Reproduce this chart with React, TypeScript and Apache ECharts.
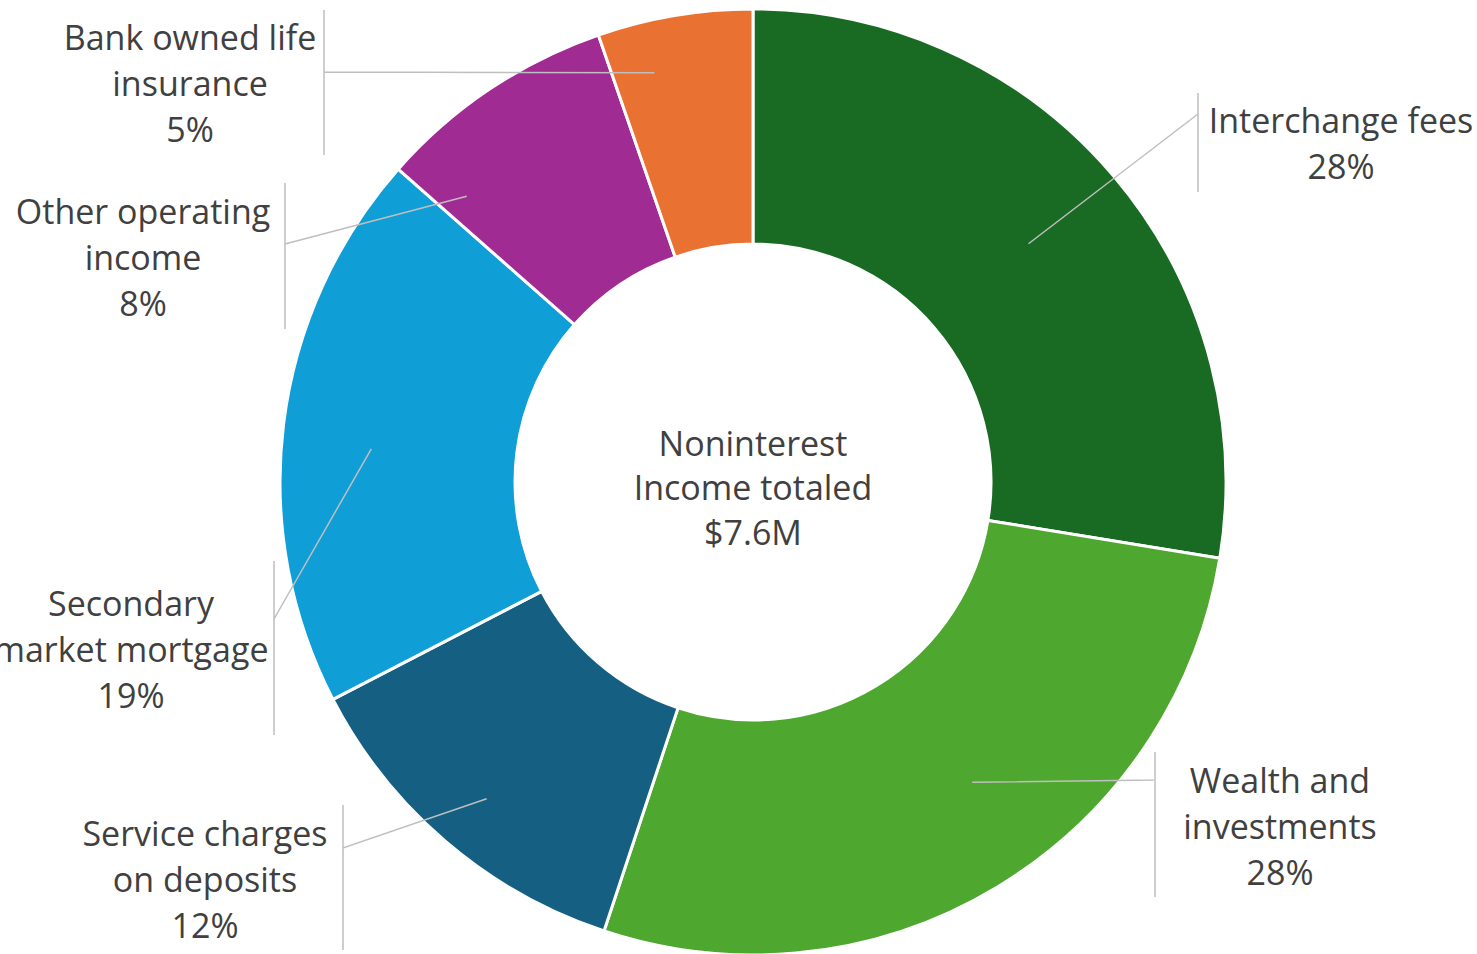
import React, { useEffect, useRef } from "react";
import * as echarts from "echarts";

// ---- data ----
const categories = [
  "Interchange fees",
  "Wealth and\ninvestments",
  "Service charges\non deposits",
  "Secondary\nmarket mortgage",
  "Other operating\nincome",
  "Bank owned life\ninsurance",
];
const shares = [27.58, 27.52, 12.3, 19.1, 8.2, 5.3];
const colors = ["#196B24", "#4EA72E", "#156082", "#0F9ED5", "#A02B93", "#E97132"];
const centerLines = ["Noninterest", "Income totaled", "$7.6M"];

// ---- layout (label boxes & leader anchors) ----
const CX = 753;
const CY = 482;
const R_OUT = 473;
const R_IN = 238;
const labelPlacement = [
  { cx: 1341, cy: 143, barX: 1198, barTop: 93, barBottom: 192, attachY: 114 },
  { cx: 1280, cy: 826, barX: 1155, barTop: 752, barBottom: 897, attachY: 780 },
  { cx: 205, cy: 879, barX: 343, barTop: 805, barBottom: 950, attachY: 848 },
  { cx: 131, cy: 649, barX: 274, barTop: 561, barBottom: 735, attachY: 619 },
  { cx: 143, cy: 257, barX: 285, barTop: 183, barBottom: 329, attachY: 244 },
  { cx: 190, cy: 83, barX: 324, barTop: 10, barBottom: 155, attachY: 72 },
];
const leaderAnchor = [
  { t: 0.495, r: 0.77 },
  { t: 0.45, r: 0.786 },
  { t: 0.49, r: 0.875 },
  { t: 0.47, r: 0.81 },
  { t: 0.12, r: 0.855 },
  { t: 0.29, r: 0.89 },
];

const FONT = "'Open Sans', 'Noto Sans', sans-serif";
const TEXT_COLOR = "#404040";

export default function App() {
  const ref = useRef<HTMLDivElement>(null);
  useEffect(() => {
    if (!ref.current) return;
    const chart = echarts.init(ref.current, null, { renderer: "svg" });
    const total = shares.reduce((a, b) => a + b, 0);
    const starts: number[] = [];
    let acc = 0;
    shares.forEach((v) => {
      starts.push(acc);
      acc += (v / total) * 360;
    });

    const common = {
      type: "pie",
      center: [CX, CY],
      radius: [R_IN, R_OUT],
      startAngle: 90,
      clockwise: true,
      avoidLabelOverlap: false,
      minShowLabelAngle: 0,
      emphasis: { disabled: true },
    };

    chart.setOption({
      animation: false,
      backgroundColor: "#ffffff",
      graphic: [
        {
          type: "text",
          x: CX,
          y: 487,
          z: 10,
          style: {
            text: centerLines.join("\n"),
            align: "center",
            verticalAlign: "middle",
            fontFamily: FONT,
            fontSize: 34,
            lineHeight: 44.5,
            fill: TEXT_COLOR,
          },
        },
      ],
      series: [
        {
          ...common,
          z: 2,
          itemStyle: { borderColor: "#ffffff", borderWidth: 3 },
          label: { show: false },
          labelLine: { show: false },
          data: categories.map((name, i) => ({
            name,
            value: shares[i],
            itemStyle: { color: colors[i] },
          })),
        },
        {
          ...common,
          z: 5,
          silent: true,
          itemStyle: { color: "rgba(0,0,0,0)", borderWidth: 0 },
          label: {
            show: true,
            position: "outside",
            fontFamily: FONT,
            fontSize: 34,
            lineHeight: 46,
            color: TEXT_COLOR,
            align: "center",
            formatter: (p: any) =>
              `${p.name}\n${Math.round((p.value / total) * 100)}%`,
          },
          labelLine: {
            show: true,
            smooth: false,
            length: 20,
            length2: 20,
            lineStyle: { color: "#BFBFBF", width: 1.5 },
          },
          labelLayout: (params: any) => {
            const i = params.dataIndex;
            const pl = labelPlacement[i];
            const an = leaderAnchor[i];
            const span = (shares[i] / total) * 360;
            const deg = starts[i] + span * an.t;
            const rad = (deg * Math.PI) / 180;
            const r = R_OUT * an.r;
            const sx = CX + r * Math.sin(rad);
            const sy = CY - r * Math.cos(rad);
            return {
              x: pl.cx,
              y: pl.cy,
              align: "center",
              verticalAlign: "middle",
              labelLinePoints: [
                [sx, sy],
                [pl.barX, pl.attachY],
                [pl.barX, pl.barTop],
                [pl.barX, pl.barBottom],
              ],
            };
          },
          data: categories.map((name, i) => ({
            name,
            value: shares[i],
          })),
        },
      ],
    });
    return () => chart.dispose();
  }, []);
  return (
    <div
      ref={ref}
      style={{ position: "absolute", left: 0, top: 0, width: 1477, height: 954 }}
    />
  );
}
